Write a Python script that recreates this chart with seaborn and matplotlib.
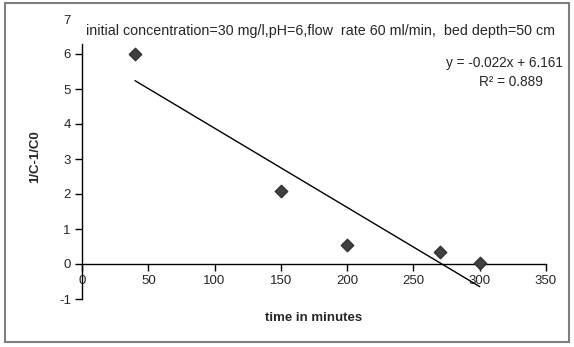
import matplotlib
matplotlib.use("Agg")
import matplotlib.pyplot as plt
import seaborn as sns
import pandas as pd
from matplotlib.patches import Rectangle

time_min = [40, 150, 200, 270, 300]
inv_c = [6.0, 2.08, 0.55, 0.33, 0.03]
x_ticks = [0, 50, 100, 150, 200, 250, 300, 350]
y_ticks = [-1, 0, 1, 2, 3, 4, 5, 6, 7]
title_text = "initial concentration=30 mg/l,pH=6,flow  rate 60 ml/min,  bed depth=50 cm"
eq_text = "y = -0.022x + 6.161"
r2_text = "R² = 0.889"

df = pd.DataFrame({"time": time_min, "val": inv_c})

sns.set_style("white")
plt.rcParams['font.family'] = ['Liberation Sans', 'DejaVu Sans']
plt.rcParams['axes.unicode_minus'] = False

fig = plt.figure(figsize=(5.74, 3.47), dpi=100)
ax = fig.add_axes([82/574, 1-299/347, (546-82)/574, (299-19)/347])

sns.regplot(data=df, x="time", y="val", ax=ax, ci=None, truncate=True,
            marker="D", color="#3f3f3f",
            scatter_kws=dict(s=40, color="#404040", edgecolors="#333333", alpha=1, zorder=3),
            line_kws=dict(color="black", linewidth=1.0, zorder=2))

ax.set_xlim(0, 350)
ax.set_ylim(-1, 7)
ax.set_xticks(x_ticks)
ax.set_yticks(y_ticks)
ax.spines['top'].set_visible(False)
ax.spines['right'].set_visible(False)
ax.spines['bottom'].set_position(('data', 0))
ax.spines['left'].set_bounds(-1, 6.3)
for s in ['left', 'bottom']:
    ax.spines[s].set_color('black')
    ax.spines[s].set_linewidth(1.0)
ax.tick_params(axis='both', direction='out', length=5, width=1, color='black',
               labelsize=9.5, pad=3, left=True, bottom=True)
ax.yaxis.get_major_ticks()[-1].tick1line.set_visible(False)
ax.set_xlabel("time in minutes", fontsize=9.5, fontweight='bold')
ax.xaxis.set_label_coords(0.5, -0.045)
ax.set_ylabel("1/C-1/C0", fontsize=9.5, fontweight='bold')
ax.yaxis.set_label_coords(-0.088, 0.507)
ax.patch.set_alpha(0)

fig.text(563/574, 1-63/347, eq_text, ha='right', va='center', fontsize=9.8)
fig.text(511/574, 1-82/347, r2_text, ha='center', va='center', fontsize=9.8)
fig.text(321/574, 1-31/347, title_text, ha='center', va='center', fontsize=10.3)

fig.patches.append(Rectangle((5/574, 1-342/347), 564/574, 339/347, transform=fig.transFigure,
                             fill=False, edgecolor='#7f7f7f', linewidth=1.5))
fig.savefig("out.png", dpi=100)
